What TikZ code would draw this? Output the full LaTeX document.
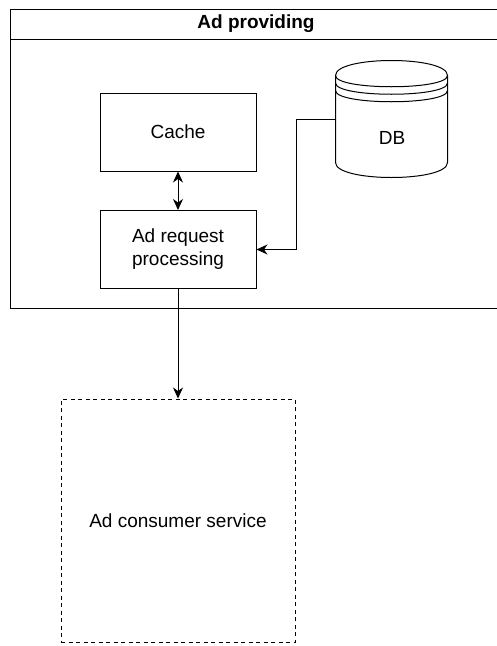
\documentclass[tikz,border=0pt]{standalone}
\usepackage{fontspec}
\setmainfont{Liberation Sans}
\usetikzlibrary{arrows.meta}
\begin{document}
\begin{tikzpicture}[x=1pt, y=-1pt, line width=1pt,
  txt/.style={font=\fontsize{19}{23}\selectfont, align=center},
  box/.style={txt, draw, fill=white, minimum width=156pt, minimum height=78pt, inner sep=0pt},
  tip/.tip={Stealth[length=11pt, width=10pt, inset=3.5pt]},
  link/.style={-tip},
  twoway/.style={tip-tip}]
\useasboundingbox (0,0) rectangle (496,646);

% outer container with its title band
\node (frame) [draw, minimum width=492pt, minimum height=299pt, inner sep=0pt, anchor=north west] at (10,9) {};
\draw ([yshift=-30pt]frame.north west) -- ([yshift=-30pt]frame.north east);
\node (title) [txt, font=\fontsize{19}{23}\selectfont\bfseries] at (256,24) {Ad providing};

% services inside the container
\node (cache) [box] at (178,132) {Cache};
\node (req) [box] at (178,249.5) {Ad request\\processing};

% database cylinder
\node (db) [txt, minimum width=112pt, minimum height=117pt, inner sep=0pt] at (392,119.5) {};
\begin{scope}[shift={(db.north west)}]
  \draw[fill=white] (0,15) .. controls (0,-5) and (112,-5) .. (112,15) -- (112,102)
        .. controls (112,122) and (0,122) .. (0,102) -- cycle;
  \foreach \k in {0,7.5,15}
    \draw (0,15+\k) .. controls (0,30+\k) and (112,30+\k) .. (112,15+\k);
\end{scope}
\node [txt] at ([yshift=-18pt]db.center) {DB};

% external consumer
\node (consumer) [txt, draw, dash pattern=on 4pt off 3.5pt, minimum width=234pt, minimum height=243pt, inner sep=0pt] at (178,520.5) {Ad consumer service};

% connectors
\draw[twoway] (cache) -- (req);
\draw[link] (db.west) -- ++(-39,0) |- (req.east);
\draw[link] (req.south) -- (consumer.north);
\end{tikzpicture}
\end{document}
